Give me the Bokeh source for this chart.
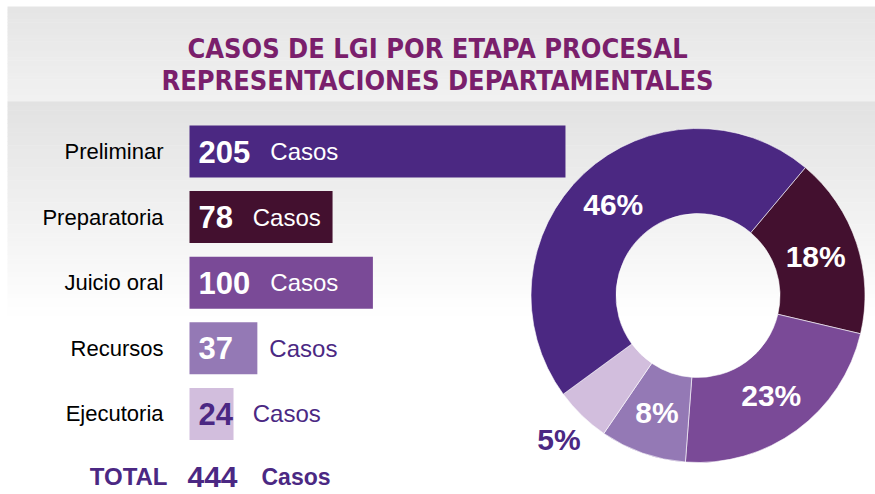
import math
from bokeh.plotting import figure
from bokeh.models import Range1d
from bokeh.core.properties import value
from bokeh.embed import file_html
from bokeh.resources import INLINE

# ---------------- data ----------------
categories = ["Preliminar", "Preparatoria", "Juicio oral", "Recursos", "Ejecutoria"]
casos = [205, 78, 100, 37, 24]
unit_label = "Casos"
total_label = "TOTAL"
title_lines = ["CASOS DE LGI POR ETAPA PROCESAL", "REPRESENTACIONES DEPARTAMENTALES"]

# ---------------- styles ----------------
bar_colors = ["#4B2882", "#43102F", "#7A4A97", "#9479B5", "#D2BEDD"]
PURPLE = "#4B2883"
TITLE_COLOR = "#7A1F6C"
FONT = value("Liberation Sans")
TITLE_FONT = value("'DejaVu Sans Condensed', 'Liberation Sans', sans-serif")

W, H = 875, 494
PX_PER_CASE = 1.834       # bar scale
BAR_X0 = 189              # screen x of bar baseline
ROW0, PITCH, BAR_H = 151, 65.6, 52
START_DEG = 40            # donut rotation (clockwise from top)


def sy(y):
    """screen y (px from top) -> data y of the 'px' coordinate system"""
    return H - y


total = sum(casos)

p = figure(width=W, height=H, output_backend="svg", toolbar_location=None,
           x_range=Range1d(-BAR_X0 / PX_PER_CASE, (W - BAR_X0) / PX_PER_CASE),
           y_range=Range1d(0, H), min_border=0)
p.extra_x_ranges = {"px": Range1d(0, W)}
p.axis.visible = False
p.grid.visible = False
p.outline_line_color = None
p.background_fill_color = "white"
p.border_fill_color = "white"


def hexmix(c0, c1, t):
    a = [int(c0[i:i + 2], 16) for i in (1, 3, 5)]
    b = [int(c1[i:i + 2], 16) for i in (1, 3, 5)]
    return "#%02x%02x%02x" % tuple(round(a[k] + (b[k] - a[k]) * t) for k in range(3))


def gradient(y0, y1, c0, c1, n=40):
    tops, bots, cols = [], [], []
    for i in range(n):
        tops.append(sy(y0 + i * (y1 - y0) / n))
        bots.append(sy(y0 + (i + 1) * (y1 - y0) / n) - 0.5)
        cols.append(hexmix(c0, c1, i / (n - 1)))
    p.quad(left=7, right=W, top=tops, bottom=bots, fill_color=cols,
           line_color=None, x_range_name="px")


# background panels
gradient(6, 101, "#E5E5E5", "#F1F1F1", 30)
gradient(101, 320, "#E2E2E2", "#FFFFFF", 50)

# title
p.text(x=[437, 437], y=[sy(48), sy(80)], text=title_lines, x_range_name="px",
       text_font=TITLE_FONT, text_font_style="bold", text_font_size="27px",
       text_color=TITLE_COLOR, text_align="center", text_baseline="middle")

# bars
rows = [sy(ROW0 + PITCH * i) for i in range(len(categories))]
p.hbar(y=rows, left=0, right=casos, height=BAR_H, fill_color=bar_colors, line_color=None)

# category labels
p.text(x=[0] * len(categories), y=rows, text=categories, x_offset=-26,
       text_font=FONT, text_font_size="22px", text_color="black",
       text_align="right", text_baseline="middle")

# value labels inside / beside bars
num_txt = [str(v) for v in casos]
num_col = ["white" if c != "#D2BEDD" else PURPLE for c in bar_colors]
casos_off, casos_col = [], []
for v, t in zip(casos, num_txt):
    off = 9 + 17.6 * len(t) + 19
    bar_px = v * PX_PER_CASE
    if bar_px > off + 72:
        casos_off.append(off)
        casos_col.append("white")
    else:
        casos_off.append(max(off, bar_px + 12))
        casos_col.append(PURPLE)
p.text(x=[0] * len(casos), y=rows, text=num_txt, x_offset=9,
       text_font=FONT, text_font_style="bold", text_font_size="31px",
       text_color=num_col, text_align="left", text_baseline="middle")
p.text(x=[0] * len(casos), y=rows, text=[unit_label] * len(casos), x_offset=casos_off,
       text_font=FONT, text_font_size="24px",
       text_color=casos_col, text_align="left", text_baseline="middle")

# total row
ty = sy(476)
p.text(x=[0], y=[ty], text=[total_label], x_offset=-22, text_font=FONT,
       text_font_style="bold", text_font_size="24px", text_color=PURPLE,
       text_align="right", text_baseline="middle")
p.text(x=[0], y=[ty], text=[str(total)], x_offset=-2, text_font=FONT,
       text_font_style="bold", text_font_size="30px", text_color=PURPLE,
       text_align="left", text_baseline="middle")
p.text(x=[0], y=[ty], text=[unit_label], x_offset=72, text_font=FONT,
       text_font_style="bold", text_font_size="23px", text_color=PURPLE,
       text_align="left", text_baseline="middle")

# donut
cx, cy, r_out, r_in = 697.5, sy(295), 167, 82
order = [1, 2, 3, 4, 0]   # clockwise from top, as in the reference
a = START_DEG
s_ang, e_ang, cols, lx, ly, ltxt, lcol = [], [], [], [], [], [], []
for i in order:
    span = 360.0 * casos[i] / total
    s_ang.append(math.radians(90 - (a + span)))
    e_ang.append(math.radians(90 - a))
    cols.append(bar_colors[i])
    mid = math.radians(a + span / 2)
    frac = casos[i] / total
    r = 124 if frac >= 0.06 else 200
    lx.append(cx + r * math.sin(mid))
    ly.append(cy + r * math.cos(mid))
    ltxt.append("%d%%" % round(frac * 100))
    lcol.append("white" if frac >= 0.06 else PURPLE)
    a += span

p.annular_wedge(x=cx, y=cy, inner_radius=r_in, outer_radius=r_out,
                start_angle=s_ang, end_angle=e_ang, fill_color=cols,
                line_color="white", line_width=0.6, x_range_name="px")
p.text(x=lx, y=ly, text=ltxt, x_range_name="px", text_font=FONT,
       text_font_style="bold", text_font_size="30px", text_color=lcol,
       text_align="center", text_baseline="middle")

open("out.html", "w").write(file_html(p, INLINE))
